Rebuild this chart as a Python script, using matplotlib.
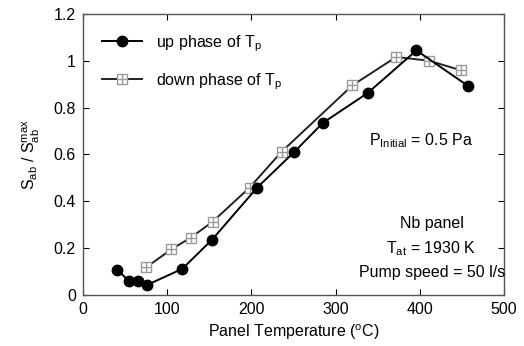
import matplotlib
matplotlib.use("Agg")
import matplotlib.pyplot as plt
from matplotlib.legend_handler import HandlerTuple

plt.rcParams['font.family'] = ['Liberation Sans', 'DejaVu Sans']
plt.rcParams['mathtext.fontset'] = 'custom'
plt.rcParams['mathtext.rm'] = 'Liberation Sans'
plt.rcParams['mathtext.it'] = 'Liberation Sans'
plt.rcParams['font.size'] = 10

# up phase of Tp
t_up = [41, 55, 66, 76, 118, 153, 207, 251, 285, 338, 396, 457]
s_up = [0.107, 0.060, 0.060, 0.043, 0.112, 0.235, 0.459, 0.611, 0.735, 0.862, 1.044, 0.893]

# down phase of Tp
t_down = [75, 105, 128, 154, 198, 236, 320, 372, 411, 449]
s_down = [0.118, 0.195, 0.245, 0.313, 0.459, 0.612, 0.895, 1.016, 1.000, 0.959]

fig = plt.figure(figsize=(5.24, 3.46), dpi=100)
ax = fig.add_axes([0.158, 0.147, 0.804, 0.813])

l_up, = ax.plot(t_up, s_up, '-o', color='black', lw=1.4, ms=7.5, zorder=3)
l_down, = ax.plot(t_down, s_down, '-s', color='#222222', lw=1.4, ms=7.5,
                  mfc='white', mec='#9a9a9a', mew=1.0, zorder=2)
l_plus, = ax.plot(t_down, s_down, '+', color='#9a9a9a', ms=7.5, mew=1.0,
                  ls='none', zorder=2)

ax.legend([l_up, (l_down, l_plus)],
          ['up phase of T$_{\\mathrm{p}}$', 'down phase of T$_{\\mathrm{p}}$'],
          handler_map={tuple: HandlerTuple(ndivide=1)},
          loc='upper left', frameon=False, fontsize=11.5, handlelength=2.5,
          borderaxespad=0.8, labelspacing=1.1, handletextpad=0.9)

ax.text(401, 0.66, 'P$_{\\mathrm{Initial}}$ = 0.5 Pa', ha='center', va='center', fontsize=11.5)
ax.text(414, 0.2, 'Nb panel\nT$_{\\mathrm{at}}$ = 1930 K\nPump speed = 50 l/s',
        ha='center', va='center', fontsize=11.5, linespacing=1.6)

ax.set_xlim(0, 500)
ax.set_ylim(0, 1.2)
ax.set_xticks([0, 100, 200, 300, 400, 500])
ax.set_yticks([0, 0.2, 0.4, 0.6, 0.8, 1.0, 1.2])
ax.set_yticklabels(['0', '0.2', '0.4', '0.6', '0.8', '1', '1.2'])
ax.tick_params(direction='in', top=True, right=True, length=4, labelsize=11.5, pad=5)
for s in ax.spines.values():
    s.set_linewidth(1.0)
    s.set_color('#555555')

ax.set_xlabel('Panel Temperature ($^{\\mathrm{o}}$C)', fontsize=11.5, labelpad=4)
ax.set_ylabel('S$_{\\mathrm{ab}}$ / S$_{\\mathrm{ab}}^{\\mathrm{max}}$', fontsize=11.5, labelpad=8)

fig.savefig('out.png', dpi=100)
